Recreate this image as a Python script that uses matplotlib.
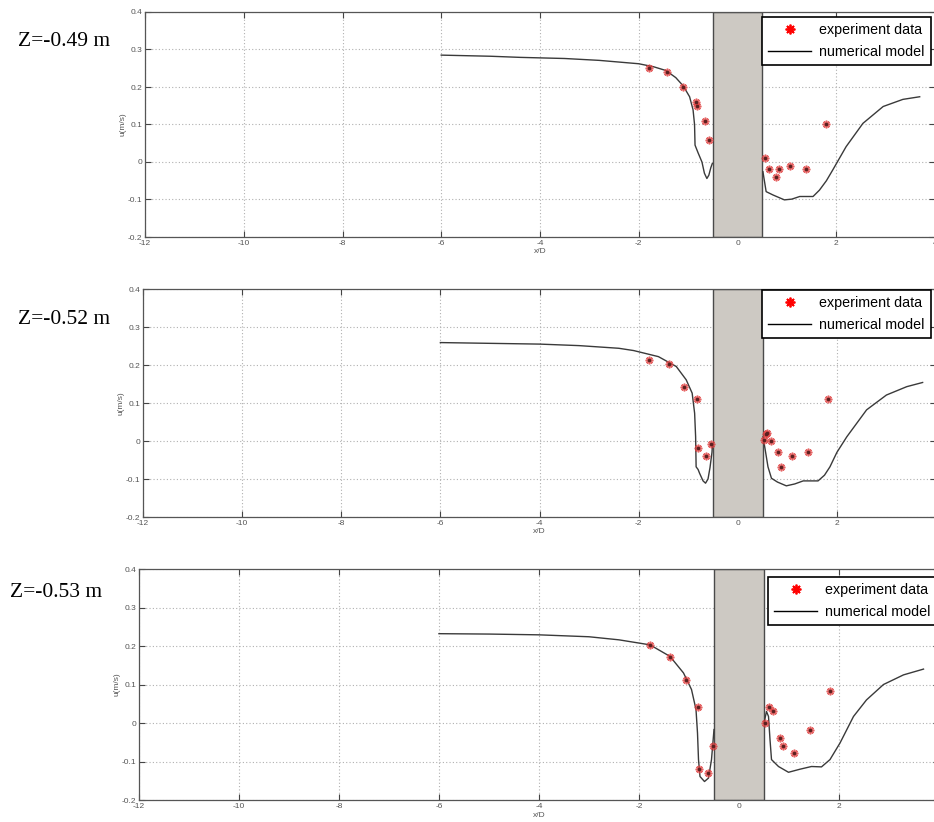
import matplotlib
matplotlib.use("Agg")
import matplotlib.pyplot as plt
from matplotlib.lines import Line2D

# ---------------- data ----------------
panel_titles = ["Z=-0.49 m", "Z=-0.52 m", "Z=-0.53 m"]
x_ticks = [-12, -10, -8, -6, -4, -2, 0, 2, 4]
y_ticks = [-0.2, -0.1, 0, 0.1, 0.2, 0.3, 0.4]
y_tick_labels = ["-0.2", "-0.1", "0", "0.1", "0.2", "0.3", "0.4"]
cyl_left, cyl_right = -0.5, 0.5

# Z = -0.49 m
exp1_x = [-1.80, -1.42, -1.11, -0.85, -0.825, -0.66, -0.57, 0.55, 0.635, 0.78, 0.845, 1.06, 1.385, 1.785]
exp1_u = [0.250, 0.240, 0.199, 0.160, 0.149, 0.110, 0.059, 0.011, -0.020, -0.039, -0.020, -0.010, -0.020, 0.100]
mod1_lx = [-6.0, -5.0, -4.4, -3.5, -2.8, -2.0, -1.7, -1.45, -1.25, -1.1, -0.97, -0.9, -0.87, -0.86,
           -0.8, -0.72, -0.67, -0.62, -0.58, -0.54, -0.51]
mod1_lu = [0.285, 0.282, 0.279, 0.276, 0.271, 0.262, 0.254, 0.244, 0.225, 0.203, 0.174, 0.139, 0.100, 0.045,
           0.025, 0.000, -0.030, -0.044, -0.035, -0.015, -0.004]
mod1_rx = [0.515, 0.58, 0.72, 0.95, 1.1, 1.26, 1.53, 1.66, 1.8, 1.93, 2.2, 2.54, 2.95, 3.35, 3.69]
mod1_ru = [-0.026, -0.079, -0.088, -0.101, -0.099, -0.092, -0.092, -0.075, -0.050, -0.021, 0.041, 0.103,
           0.148, 0.167, 0.174]

# Z = -0.52 m
exp2_x = [-1.795, -1.39, -1.085, -0.82, -0.795, -0.64, -0.53, 0.526, 0.56, 0.60, 0.67, 0.82, 0.88, 1.10, 1.42, 1.82]
exp2_u = [0.212, 0.203, 0.141, 0.111, -0.019, -0.039, -0.009, 0.002, 0.018, 0.021, 0.001, -0.030, -0.068,
          -0.039, -0.030, 0.110]
mod2_lx = [-6.0, -5.0, -4.0, -3.2, -2.4, -2.1, -1.6, -1.24, -1.04, -0.92, -0.87, -0.85, -0.84, -0.8, -0.77,
           -0.7, -0.65, -0.6, -0.56, -0.52, -0.51]
mod2_lu = [0.259, 0.257, 0.255, 0.251, 0.244, 0.238, 0.222, 0.196, 0.161, 0.126, 0.073, 0.011, -0.068,
           -0.075, -0.085, -0.105, -0.111, -0.100, -0.070, -0.030, -0.009]
mod2_rx = [0.51, 0.55, 0.61, 0.68, 0.8, 0.98, 1.15, 1.32, 1.62, 1.75, 1.86, 2.0, 2.2, 2.6, 3.0, 3.41, 3.73]
mod2_ru = [0.011, -0.020, -0.068, -0.098, -0.108, -0.118, -0.113, -0.105, -0.105, -0.090, -0.068, -0.030,
           0.011, 0.082, 0.121, 0.143, 0.154]

# Z = -0.53 m
exp3_x = [-1.78, -1.39, -1.07, -0.83, -0.80, -0.63, -0.52, 0.51, 0.59, 0.67, 0.81, 0.87, 1.09, 1.41, 1.81]
exp3_u = [0.202, 0.172, 0.112, 0.042, -0.120, -0.130, -0.059, 0.000, 0.042, 0.032, -0.039, -0.059, -0.079,
          -0.019, 0.082]
mod3_lx = [-6.0, -5.0, -4.0, -3.0, -2.4, -1.78, -1.38, -1.11, -0.95, -0.86, -0.83, -0.81, -0.78, -0.69,
           -0.61, -0.55, -0.5]
mod3_lu = [0.232, 0.231, 0.229, 0.224, 0.216, 0.203, 0.173, 0.130, 0.087, 0.035, -0.026, -0.095, -0.139,
           -0.152, -0.143, -0.095, -0.017]
mod3_rx = [0.5, 0.55, 0.59, 0.62, 0.65, 0.79, 0.99, 1.22, 1.45, 1.65, 1.82, 2.02, 2.29, 2.55, 2.89, 3.29, 3.69]
mod3_ru = [0.000, 0.030, 0.017, -0.043, -0.095, -0.113, -0.128, -0.120, -0.113, -0.114, -0.095, -0.052,
           0.017, 0.060, 0.100, 0.125, 0.140]

panels = [
    (exp1_x, exp1_u, mod1_lx, mod1_lu, mod1_rx, mod1_ru),
    (exp2_x, exp2_u, mod2_lx, mod2_lu, mod2_rx, mod2_ru),
    (exp3_x, exp3_u, mod3_lx, mod3_lu, mod3_rx, mod3_ru),
]

# ---------------- layout (pixels) ----------------
W, H = 934, 822
axes_px = [  # left, right, top, bottom
    (145, 935, 12, 237),
    (143, 936, 289, 517),
    (139, 939, 569, 800),
]
legend_px = [(762, 17), (762, 290), (768, 577)]
title_px = [(18, 42), (18, 319), (10, 592)]

plt.rcParams["font.family"] = ["Liberation Sans", "DejaVu Sans"]

fig = plt.figure(figsize=(W / 100, H / 100), dpi=100)
fig.patch.set_facecolor("white")

star = (8, 2, 0)

for i, (ex, eu, lx, lu, rx, ru) in enumerate(panels):
    l, r, t, b = axes_px[i]
    ax = fig.add_axes([l / W, 1 - b / H, (r - l) / W, (b - t) / H])
    ax.set_xlim(-12, 4)
    ax.set_ylim(-0.2, 0.4)
    ax.set_xticks(x_ticks)
    ax.set_xticklabels([str(v) for v in x_ticks])
    ax.set_yticks(y_ticks)
    ax.set_yticklabels(y_tick_labels)
    ax.grid(True, linestyle=(0, (1, 2)), color="#b0b0b0", linewidth=0.8)
    ax.set_axisbelow(True)
    ax.tick_params(direction="in", length=4, width=0.8, color="#444444", labelsize=6,
                   labelcolor="#555555", top=True, right=True, pad=2)
    for s in ax.spines.values():
        s.set_color("#555555")
        s.set_linewidth(0.9)

    ax.axvspan(cyl_left, cyl_right, facecolor="#cdc9c3", edgecolor="#4a4a4a", linewidth=1.0, zorder=2)

    ax.plot(lx, lu, color="#3a3a3a", linewidth=1.0, zorder=3)
    ax.plot(rx, ru, color="#3a3a3a", linewidth=1.0, zorder=3)
    ax.plot(ex, eu, linestyle="none", marker=star, markersize=5.5, markeredgewidth=1.2,
            color="#e04040", alpha=0.8, zorder=4)
    ax.plot(ex, eu, linestyle="none", marker="o", markersize=1.6, color="#5a2020", zorder=5)

    ax.set_xlabel("x/D", fontsize=6, color="#555555")
    ax.set_ylabel("u(m/s)", fontsize=6, color="#555555")
    ax.xaxis.set_label_coords(0.5, -0.05)
    ax.yaxis.set_label_coords(-0.023, 0.5)

    handles = [
        Line2D([], [], linestyle="none", marker=star, markersize=7, markeredgewidth=1.3, color="red"),
        Line2D([], [], color="black", linewidth=1.0),
    ]
    lx0, ly0 = legend_px[i]
    leg = ax.legend(handles, ["experiment data", "numerical model"], loc="upper left",
                    bbox_to_anchor=(lx0 / W, 1 - ly0 / H), bbox_transform=fig.transFigure,
                    borderaxespad=0, fontsize=10.3, handlelength=3.0, handletextpad=0.55,
                    labelspacing=0.5, borderpad=0.45, fancybox=False, framealpha=1,
                    edgecolor="black")
    leg.get_frame().set_linewidth(1.2)
    leg.set_zorder(10)

    tx, ty = title_px[i]
    fig.text(tx / W, 1 - ty / H, panel_titles[i], fontsize=15.5, family="Liberation Serif",
             ha="left", va="center")

fig.savefig("out.png", dpi=100)
